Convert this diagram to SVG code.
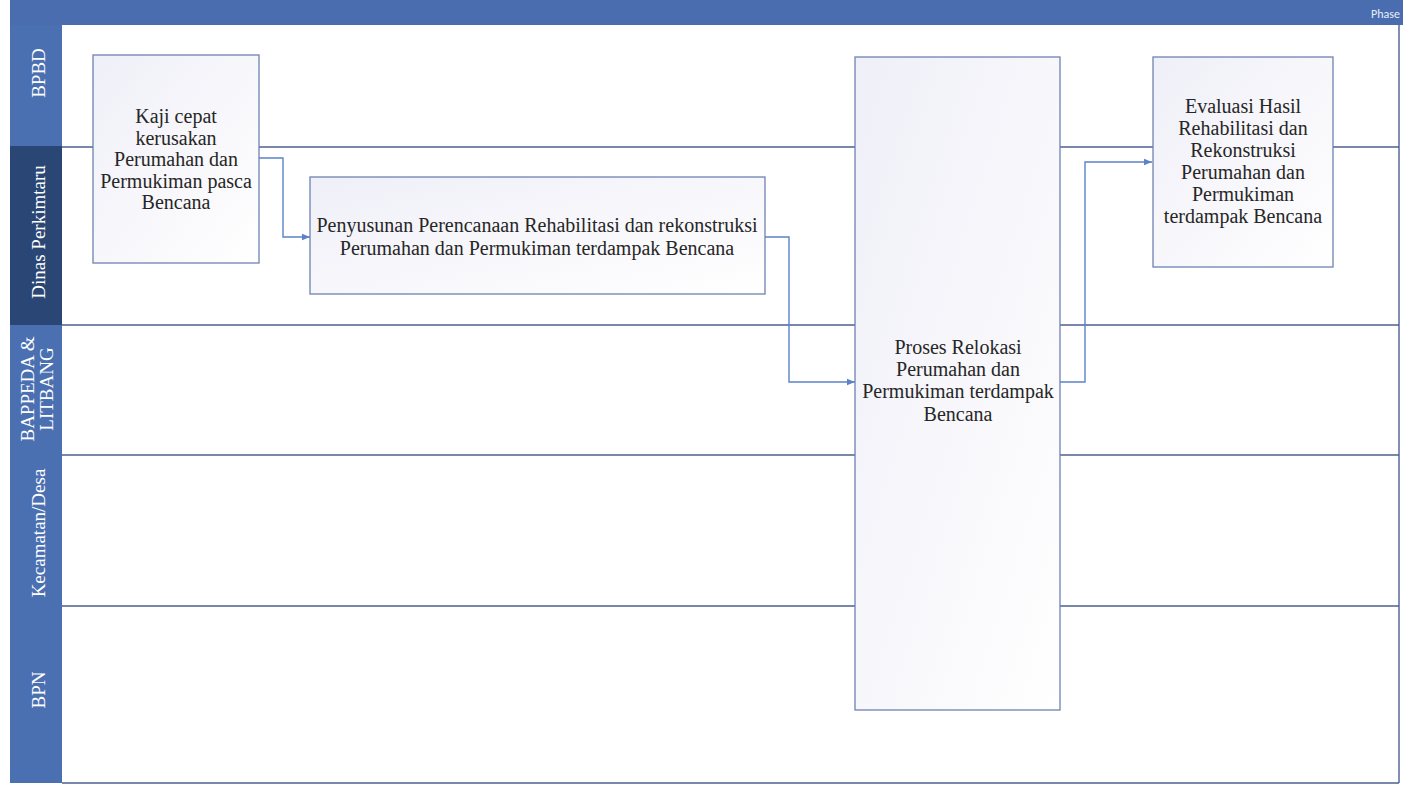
<svg xmlns="http://www.w3.org/2000/svg" width="1408" height="785" viewBox="0 0 1408 785">
  <style>
    .lane-head { fill: #4b70b2; }
    .lane-head.dark { fill: #2a4674; }
    .lane-label { font-family: "Liberation Serif", "Times New Roman", serif; font-size: 19px; fill: #ffffff; text-anchor: middle; }
    .divider { stroke: #4d5f92; stroke-width: 1.4; fill: none; }
    .box { fill: url(#boxFill); stroke: #6f82b3; stroke-width: 1.3; }
    .label { font-family: "Liberation Serif", "Times New Roman", serif; font-size: 20px; fill: #262626; text-anchor: middle; }
    .flow { stroke: #5b82c8; stroke-width: 1.4; fill: none; marker-end: url(#arrow); }
  </style>
  <defs>
    <linearGradient id="boxFill" x1="0" y1="0" x2="1" y2="1">
      <stop offset="0" stop-color="#efeff8"/>
      <stop offset="1" stop-color="#ffffff"/>
    </linearGradient>
    <marker id="arrow" viewBox="0 0 10 10" refX="10" refY="5" markerWidth="8" markerHeight="8" markerUnits="userSpaceOnUse" orient="auto">
      <path d="M0,1 L10,5 L0,9 z" fill="#5b82c8"/>
    </marker>
  </defs>

  <rect x="0" y="0" width="1408" height="785" fill="#ffffff"/>

  <!-- pool frame and phase header -->
  <g id="pool">
    <rect x="10" y="0" width="1393" height="25" fill="#4a6daf"/>
    <text x="1400" y="18" font-family="Carlito, 'Open Sans', 'Liberation Sans', sans-serif" font-size="12" fill="#e8eef8" text-anchor="end">Phase</text>
    <line x1="1399" y1="25" x2="1399" y2="783" class="divider"/>
    <line x1="62" y1="783" x2="1399" y2="783" class="divider"/>
  </g>

  <!-- swimlanes -->
  <g id="lane-bpbd">
    <rect class="lane-head" x="10" y="25" width="52" height="121"/>
    <text class="lane-label" transform="translate(45,73) rotate(-90)">BPBD</text>
  </g>
  <g id="lane-dinas">
    <rect class="lane-head dark" x="10" y="146" width="52" height="179"/>
    <text class="lane-label" transform="translate(45,232) rotate(-90)">Dinas Perkimtaru</text>
  </g>
  <g id="lane-bappeda">
    <rect class="lane-head" x="10" y="325" width="52" height="130"/>
    <text class="lane-label" transform="translate(34,389) rotate(-90)">BAPPEDA &amp;</text>
    <text class="lane-label" transform="translate(53,389) rotate(-90)">LITBANG</text>
  </g>
  <g id="lane-kecamatan">
    <rect class="lane-head" x="10" y="455" width="52" height="151"/>
    <text class="lane-label" transform="translate(45,533) rotate(-90)">Kecamatan/Desa</text>
  </g>
  <g id="lane-bpn">
    <rect class="lane-head" x="10" y="606" width="52" height="177"/>
    <text class="lane-label" transform="translate(45,690) rotate(-90)">BPN</text>
  </g>

  <g id="dividers">
    <line class="divider" x1="62" y1="147" x2="1399" y2="147"/>
    <line class="divider" x1="62" y1="325" x2="1399" y2="325"/>
    <line class="divider" x1="62" y1="455" x2="1399" y2="455"/>
    <line class="divider" x1="62" y1="606" x2="1399" y2="606"/>
  </g>

  <!-- connectors -->
  <g id="connectors">
    <path class="flow" d="M259,158 H283 V237 H310"/>
    <path class="flow" d="M765,237 H789 V382 H855"/>
    <path class="flow" d="M1060,382 H1085 V162 H1152"/>
  </g>

  <!-- process steps -->
  <g id="kaji-cepat">
    <rect class="box" x="93" y="55" width="166" height="208"/>
    <text class="label" x="176" y="123">Kaji cepat</text>
    <text class="label" x="176" y="145">kerusakan</text>
    <text class="label" x="176" y="166">Perumahan dan</text>
    <text class="label" x="176" y="188">Permukiman pasca</text>
    <text class="label" x="176" y="209">Bencana</text>
  </g>

  <g id="penyusunan">
    <rect class="box" x="310" y="177" width="455" height="117"/>
    <text class="label" x="537" y="232">Penyusunan Perencanaan Rehabilitasi dan rekonstruksi</text>
    <text class="label" x="537" y="255">Perumahan dan Permukiman terdampak Bencana</text>
  </g>

  <g id="proses-relokasi">
    <rect class="box" x="855" y="57" width="205" height="653"/>
    <text class="label" x="958" y="354">Proses Relokasi</text>
    <text class="label" x="958" y="376">Perumahan dan</text>
    <text class="label" x="958" y="398">Permukiman terdampak</text>
    <text class="label" x="958" y="421">Bencana</text>
  </g>

  <g id="evaluasi">
    <rect class="box" x="1153" y="57" width="180" height="210"/>
    <text class="label" x="1243" y="113">Evaluasi Hasil</text>
    <text class="label" x="1243" y="135">Rehabilitasi dan</text>
    <text class="label" x="1243" y="157">Rekonstruksi</text>
    <text class="label" x="1243" y="179">Perumahan dan</text>
    <text class="label" x="1243" y="201">Permukiman</text>
    <text class="label" x="1243" y="223">terdampak Bencana</text>
  </g>
</svg>
